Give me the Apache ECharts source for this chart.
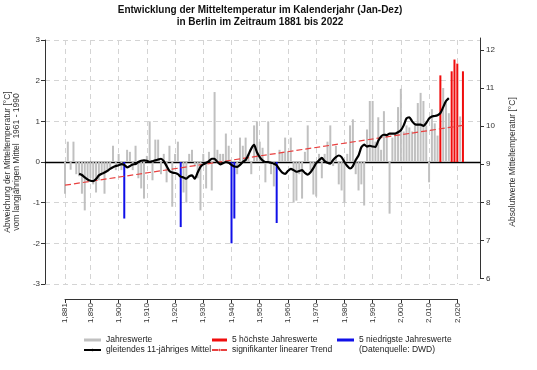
<!DOCTYPE html>
<html><head><meta charset="utf-8">
<script src="https://cdn.jsdelivr.net/npm/echarts@6/dist/echarts.min.js"></script>
<style>html,body{margin:0;padding:0;background:#fff}#c{width:537px;height:370px}</style>
</head><body><div id="c"></div>
<script>
// ---- data ----
const firstYear = 1881;
const anomalies = [
 -0.78, 0.50, -0.19, 0.50, -0.30, -0.35, -0.78, -1.19, -0.45, -0.40,
 -0.55, -0.75, -0.45, -0.30, -0.78, -0.25, -0.15, 0.40, -0.20, 0.20,
 -0.20, -1.39, 0.30, 0.25, -0.20, 0.40, -0.40, -0.65, -0.90, 0.15,
 1.00, -0.45, 0.55, 0.55, -0.30, 0.20, -0.50, 0.40, -1.10, 0.20,
 0.50, -1.60, -0.75, -1.00, 0.20, 0.30, -0.10, -0.40, -1.19, 0.20,
 -0.65, 0.25, -0.70, 1.72, 0.30, 0.20, 0.20, 0.70, 0.40, -2.00,
 -1.39, -0.30, 0.60, 0.40, 0.60, 0.20, -0.30, 0.90, 1.00, 0.50,
 0.35, -0.50, 1.00, -0.30, -0.60, -1.50, 0.30, 0.25, 0.60, 0.25,
 0.60, -1.00, -0.95, -0.30, -0.90, 0.25, 0.90, -0.20, -0.80, -0.85,
 0.20, -0.40, 0.20, 0.50, 0.90, -0.10, 0.40, -0.55, -0.70, -1.00,
 0.20, 0.90, 1.05, -0.30, -0.70, -0.55, -1.07, 0.80, 1.50, 1.50,
 0.50, 1.10, 0.30, 1.25, 0.65, -1.27, 0.60, 0.70, 1.35, 1.80,
 0.75, 0.90, 0.85, 0.75, 0.90, 1.45, 1.70, 1.50, 0.90, -0.50,
 1.30, 0.95, 0.65, 2.13, 1.82, 1.50, 1.20, 2.23, 2.52, 2.42,
 1.12, 2.23
];
const maFirstYear = 1886;
const movingMean = [
 -0.29, -0.32, -0.38, -0.43, -0.46, -0.47, -0.42, -0.33, -0.29, -0.26,
 -0.22, -0.17, -0.13, -0.10, -0.08, -0.05, -0.07, -0.13, -0.10, -0.06,
 -0.05, 0.00, 0.03, 0.04, 0.03, 0.00, 0.02, 0.04, 0.06, 0.08,
 0.02, -0.10, -0.22, -0.26, -0.27, -0.30, -0.36, -0.38, -0.41, -0.35,
 -0.33, -0.41, -0.26, -0.12, -0.06, -0.02, 0.02, 0.08, 0.08, 0.00,
 -0.06, -0.03, 0.00, -0.02, -0.07, -0.11, -0.12, -0.07, 0.00, 0.05,
 0.18, 0.33, 0.42, 0.24, 0.12, 0.04, 0.00, 0.00, -0.02, -0.04,
 -0.08, -0.18, -0.26, -0.29, -0.22, -0.17, -0.20, -0.24, -0.22, -0.20,
 -0.27, -0.31, -0.25, -0.15, -0.03, 0.04, 0.10, 0.02, -0.02, -0.04,
 0.05, 0.12, 0.16, 0.12, 0.00, -0.10, -0.16, -0.10, 0.05, 0.16,
 0.36, 0.43, 0.38, 0.40, 0.38, 0.37, 0.52, 0.63, 0.67, 0.66,
 0.70, 0.70, 0.70, 0.73, 0.78, 0.90, 1.07, 1.10, 1.00, 0.93,
 0.92, 0.92, 0.89, 0.96, 1.07, 1.12, 1.13, 1.15, 1.20, 1.35,
 1.50, 1.57
];
const trendYears = [1881, 2022];
const trendValues = [-0.57, 0.90];
const xTickYears = [1881, 1890, 1900, 1910, 1920, 1930, 1940, 1950, 1960, 1970, 1980, 1990, 2000, 2010, 2020];
const leftTicks = [-3, -2, -1, 0, 1, 2, 3];
const rightTicks = [6, 7, 8, 9, 10, 11, 12];
const nExtreme = 5;

// ---- build ----
const years = anomalies.map((v, i) => firstYear + i);
const sortedIdx = anomalies.map((v, i) => i).sort((a, b) => anomalies[a] - anomalies[b]);
const lowSet = new Set(sortedIdx.slice(0, nExtreme));
const highSet = new Set(sortedIdx.slice(-nExtreme));
const greyData = years.map((y, i) => [y, (lowSet.has(i) || highSet.has(i)) ? '-' : anomalies[i]]);
const highData = years.map((y, i) => [y, highSet.has(i) ? anomalies[i] : '-']);
const lowData = years.map((y, i) => [y, lowSet.has(i) ? anomalies[i] : '-']);
const maData = movingMean.map((v, i) => [maFirstYear + i, v]);
const trendData = trendYears.map((y, i) => [y, trendValues[i]]);

// layout (pixels)
const px1881 = 65, px2020 = 457.3, plotL = 45, plotR = 480;
const pxPerYear = (px2020 - px1881) / (2020 - 1881);
const xMin = 1881 - (px1881 - plotL) / pxPerYear;
const xMax = 2020 + (plotR - px2020) / pxPerYear;
const rightTop = 38, right6 = 278.5, rightPxPerDeg = 38.08;

const FONT = 'Liberation Sans, Arial, sans-serif';
const dashed = {show: true, lineStyle: {color: '#d4d4d4', type: [5, 4], width: 1}};
const gridBase = {containLabel: false, outerBoundsMode: 'none'};

const chart = echarts.init(document.getElementById('c'), null, {renderer: 'canvas'});
chart.setOption({
  animation: false,
  backgroundColor: '#ffffff',
  textStyle: {fontFamily: FONT},
  title: {
    text: 'Entwicklung der Mitteltemperatur im Kalenderjahr (Jan-Dez)\nin Berlin im Zeitraum 1881 bis 2022',
    left: 255, top: -1, textAlign: 'center',
    textStyle: {fontSize: 10, fontWeight: 'bold', color: '#111', lineHeight: 12, fontFamily: FONT}
  },
  grid: [
    Object.assign({left: plotL, right: 537 - plotR, top: 40, bottom: 370 - 284}, gridBase),
    Object.assign({left: px1881, right: 537 - px2020, top: 298, height: 1}, gridBase),
    Object.assign({left: plotL, right: 537 - plotR, top: rightTop, bottom: 370 - right6}, gridBase)
  ],
  xAxis: [
    {gridIndex: 0, type: 'value', min: xMin, max: xMax,
     axisLine: {show: true, onZero: true, lineStyle: {color: '#000', width: 1.4}},
     axisTick: {show: false, customValues: xTickYears},
     axisLabel: {show: false, customValues: xTickYears},
     splitLine: dashed},
    {gridIndex: 1, type: 'value', min: 1881, max: 2020, position: 'bottom',
     axisLine: {show: true, onZero: false, lineStyle: {color: '#333', width: 1}},
     axisTick: {show: true, length: 4, customValues: xTickYears, lineStyle: {color: '#333'}},
     axisLabel: {show: true, customValues: xTickYears, rotate: 90, fontSize: 8, color: '#333', margin: 4, fontFamily: FONT},
     splitLine: {show: false}},
    {gridIndex: 2, type: 'value', min: 0, max: 1, show: false}
  ],
  yAxis: [
    {gridIndex: 0, type: 'value', min: -3, max: 3, interval: 1, position: 'left',
     axisLine: {show: true, onZero: false, lineStyle: {color: '#333', width: 1}},
     axisTick: {show: true, length: 4, lineStyle: {color: '#333'}},
     axisLabel: {fontSize: 8, color: '#333', margin: 5, fontFamily: FONT},
     splitLine: dashed,
     name: 'Abweichung der Mitteltemperatur [°C]\nvom langjährigen Mittel  1961 - 1990',
     nameLocation: 'middle', nameRotate: 90, nameGap: 23.5,
     nameTextStyle: {fontSize: 8.5, color: '#333', lineHeight: 9, fontFamily: FONT}},
    {gridIndex: 1, type: 'value', min: 0, max: 1, show: false},
    {gridIndex: 2, type: 'value', position: 'right', min: 6, max: 6 + (right6 - rightTop) / rightPxPerDeg,
     axisLine: {show: true, onZero: false, lineStyle: {color: '#333', width: 1}},
     axisTick: {show: true, length: 4, customValues: rightTicks, lineStyle: {color: '#333'}},
     axisLabel: {show: true, customValues: rightTicks, fontSize: 8, color: '#333', margin: 6, fontFamily: FONT},
     splitLine: {show: false}}
  ],
  legend: [
    {data: [{name: 'Jahreswerte', icon: 'rect'}, {name: 'gleitendes 11-jähriges Mittel'}],
     orient: 'vertical', left: 78, top: 330.5, itemWidth: 17, itemHeight: 3, itemGap: 1,
     textStyle: {fontSize: 8.5, color: '#222', lineHeight: 9, fontFamily: FONT}},
    {data: [{name: '5 höchste Jahreswerte', icon: 'rect'}, {name: 'signifikanter linearer Trend'}],
     orient: 'vertical', left: 206, top: 330.5, itemWidth: 15, itemHeight: 3, itemGap: 1,
     textStyle: {fontSize: 8.5, color: '#222', lineHeight: 9, fontFamily: FONT}},
    {data: [{name: '5 niedrigste Jahreswerte', icon: 'rect'}],
     orient: 'vertical', left: 332, top: 330.5, itemWidth: 17, itemHeight: 3, itemGap: 1,
     textStyle: {fontSize: 8.5, color: '#222', lineHeight: 9, fontFamily: FONT}}
  ],
  graphic: [
    {type: 'text', x: 513, y: 162, rotation: Math.PI / 2,
     style: {text: 'Absolutwerte Mitteltemperatur [°C]', fontSize: 8.5, fill: '#333', align: 'center', verticalAlign: 'middle', fontFamily: FONT}},
    {type: 'text', left: 359, top: 345,
     style: {text: '(Datenquelle: DWD)', fontSize: 8.5, fill: '#222', fontFamily: FONT}}
  ],
  series: [
    {name: 'Jahreswerte', type: 'bar', xAxisIndex: 0, yAxisIndex: 0, data: greyData,
     barWidth: 2, barGap: '-100%', itemStyle: {color: '#c0c0c0'}, z: 2},
    {name: '5 höchste Jahreswerte', type: 'bar', xAxisIndex: 0, yAxisIndex: 0, data: highData,
     barWidth: 2, barGap: '-100%', itemStyle: {color: '#f00d0d'}, z: 2},
    {name: '5 niedrigste Jahreswerte', type: 'bar', xAxisIndex: 0, yAxisIndex: 0, data: lowData,
     barWidth: 2, barGap: '-100%', itemStyle: {color: '#1010e8'}, z: 2},
    {name: 'signifikanter linearer Trend', type: 'line', xAxisIndex: 0, yAxisIndex: 0, data: trendData,
     symbol: 'none', lineStyle: {color: '#e8403f', width: 1.2, type: [6, 3]}, itemStyle: {color: '#e8403f'}, z: 4},
    {name: 'gleitendes 11-jähriges Mittel', type: 'line', xAxisIndex: 0, yAxisIndex: 0, data: maData,
     symbol: 'none', smooth: 0.2, lineStyle: {color: '#000', width: 2.2}, itemStyle: {color: '#000'}, z: 5}
  ]
});
</script></body></html>
